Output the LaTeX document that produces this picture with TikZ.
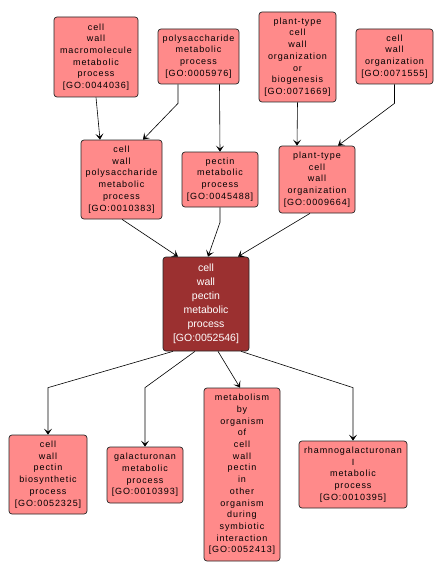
\documentclass[tikz,border=0pt]{standalone}
\usepackage{fontspec}
\setmainfont{Liberation Sans}
\usetikzlibrary{arrows.meta}
\definecolor{boxfill}{HTML}{FF8A8A}
\definecolor{mainfill}{HTML}{9B3030}
\tikzset{
  term/.style={draw=black!85, line width=0.7pt, fill=boxfill, rounded corners=3pt,
    align=center, inner sep=1pt,
    font=\addfontfeature{LetterSpace=10}\fontsize{9}{11.7}\selectfont},
  mainterm/.style={term, fill=mainfill, text=white,
    font=\fontsize{10.5}{14}\selectfont},
  edge/.style={draw=black, line width=0.6pt, -{Stealth[length=6pt,width=8pt,inset=3pt]}}
}
\begin{document}
\begin{tikzpicture}[x=1pt,y=-1pt]
\useasboundingbox (0,0) rectangle (443,575);
\node[term, minimum width=84pt, minimum height=80pt] (A) at (96,57) {cell\\wall\\macromolecule\\metabolic\\process\\{[GO:0044036]}};
\node[term, minimum width=81pt, minimum height=55pt] (B) at (198.5,56.5) {polysaccharide\\metabolic\\process\\{[GO:0005976]}};
\node[term, minimum width=77pt, minimum height=90pt] (C) at (297.5,57) {plant-type\\cell\\wall\\organization\\or\\biogenesis\\{[GO:0071669]}};
\node[term, minimum width=77pt, minimum height=55pt] (D) at (394.5,56.5) {cell\\wall\\organization\\{[GO:0071555]}};
\node[term, minimum width=81pt, minimum height=79pt] (E) at (121.5,179.5) {cell\\wall\\polysaccharide\\metabolic\\process\\{[GO:0010383]}};
\node[term, minimum width=76pt, minimum height=55pt] (F) at (220,179.5) {pectin\\metabolic\\process\\{[GO:0045488]}};
\node[term, minimum width=76pt, minimum height=67pt] (G) at (317,179.5) {plant-type\\cell\\wall\\organization\\{[GO:0009664]}};
\node[mainterm, minimum width=86pt, minimum height=94pt] (H) at (206,304) {cell\\wall\\pectin\\metabolic\\process\\{[GO:0052546]}};
\node[term, minimum width=78pt, minimum height=79pt] (I) at (48,474.5) {cell\\wall\\pectin\\biosynthetic\\process\\{[GO:0052325]}};
\node[term, minimum width=76pt, minimum height=56pt] (J) at (145,475) {galacturonan\\metabolic\\process\\{[GO:0010393]}};
\node[term, minimum width=76pt, minimum height=173pt] (K) at (242,474.5) {metabolism\\by\\organism\\of\\cell\\wall\\pectin\\in\\other\\organism\\during\\symbiotic\\interaction\\{[GO:0052413]}};
\node[term, minimum width=108pt, minimum height=67pt] (L) at (353,474.5) {rhamnogalacturonan\\I\\metabolic\\process\\{[GO:0010395]}};
% edges
\draw[edge] (A.south) -- ([xshift=-21.5pt]E.north);
\draw[edge] ([xshift=-20.5pt]B.south) -- ++(0,19) -- ([xshift=21.5pt]E.north);
\draw[edge] ([xshift=21pt]B.south) -- (F.north);
\draw[edge] (C.south) -- ([xshift=-20pt]G.north);
\draw[edge] (D.south) -- ++(0,19) -- ([xshift=21pt]G.north);
\draw[edge] ([xshift=0.5pt]E.south) -- ([xshift=-28pt]H.north);
\draw[edge] (F.south) -- ++(0,15) -- ([xshift=2pt]H.north);
\draw[edge] ([xshift=-7pt]G.south) -- ([xshift=32pt]H.north);
\draw[edge] ([xshift=-33pt]H.south) -- ([yshift=47pt]I.north) -- (I.north);
\draw[edge] ([xshift=-11pt]H.south) -- ([yshift=59pt]J.north) -- (J.north);
\draw[edge] ([xshift=12pt]H.south) -- ([xshift=-2pt]K.north);
\draw[edge] ([xshift=35pt]H.south) -- ([yshift=53pt]L.north) -- (L.north);
\end{tikzpicture}
\end{document}
